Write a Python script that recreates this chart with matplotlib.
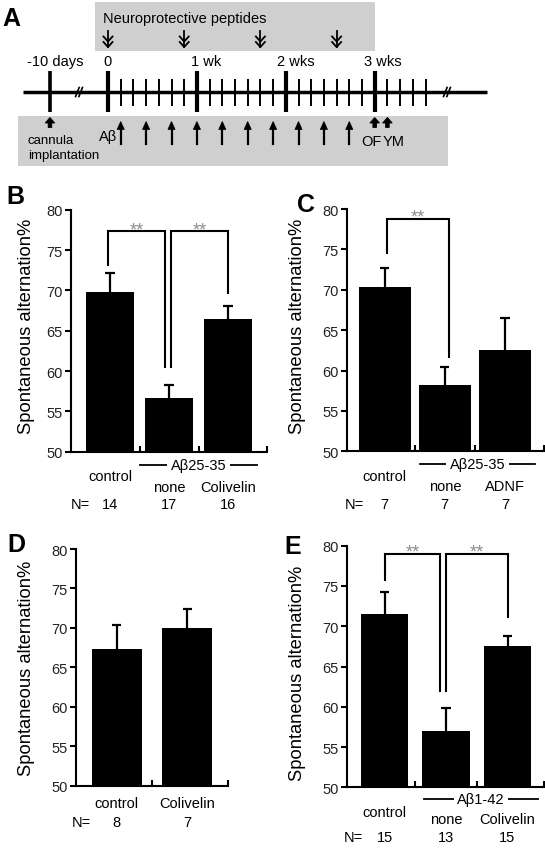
import numpy as np
import matplotlib
matplotlib.use('Agg')
import matplotlib.pyplot as plt
from matplotlib.patches import Rectangle, Polygon
from matplotlib import transforms

plt.rcParams['font.family'] = ['Liberation Sans', 'DejaVu Sans']

W, H, DPI = 545, 853, 100
fig = plt.figure(figsize=(W / DPI, H / DPI), dpi=DPI)

# ---------------- data ----------------
# Panel A: experimental timeline (days)
timeline_days = list(range(0, 26))
week_days = [0, 7, 14, 21]
week_labels = ['0', '1 wk', '2 wks', '3 wks']
pre_day_label = '-10 days'
peptide_days = [0, 6, 12, 18]
abeta_days = [1, 3, 5, 7, 9, 11, 13, 15, 17, 19]
test_days = [21, 22]
test_labels = ['OF', 'YM']

# Panel B
B_cats = ['control', 'none', 'Colivelin']
B_mean = [69.8, 56.6, 66.5]
B_sem = [2.4, 1.7, 1.6]
B_n = [14, 17, 16]
B_group = 'Aβ25-35'

# Panel C
C_cats = ['control', 'none', 'ADNF']
C_mean = [70.4, 58.2, 62.5]
C_sem = [2.3, 2.2, 4.0]
C_n = [7, 7, 7]
C_group = 'Aβ25-35'

# Panel D
D_cats = ['control', 'Colivelin']
D_mean = [67.3, 70.0]
D_sem = [3.1, 2.45]
D_n = [8, 7]

# Panel E
E_cats = ['control', 'none', 'Colivelin']
E_mean = [71.5, 57.0, 67.6]
E_sem = [2.8, 2.85, 1.2]
E_n = [15, 13, 15]
E_group = 'Aβ1-42'

ylabel = 'Spontaneous alternation%'


def px_axes(x0, y_top, x1, y_bot):
    return fig.add_axes([x0 / W, 1 - y_bot / H, (x1 - x0) / W, (y_bot - y_top) / H])


def ftext(x, y, s, **kw):
    fig.text(x / W, 1 - y / H, s, **kw)


# ---------------- Panel A ----------------
DAY0, PXD = 108.0, 12.7
axA = px_axes(0, 0, W, 175)
axA.set_xlim(-DAY0 / PXD, (W - DAY0) / PXD)
axA.set_ylim(175, 0)
axA.axis('off')

def dpx(p):  # pixel width -> day units
    return p / PXD

pre_pos = -4.57
gray = '#cfcfcf'
axA.add_patch(Rectangle((-1.02, 3), 22.04, 49, facecolor=gray, edgecolor='none', zorder=0))
axA.add_patch(Rectangle((-7.09, 117), 33.86, 49.5, facecolor=gray, edgecolor='none', zorder=0))

# main line
axA.plot([-6.69, 29.84], [93, 93], color='black', lw=2.5, solid_capstyle='butt', zorder=2)
# break marks
for bx in (-2.28, 26.69):
    for dx in (-0.13, 0.13):
        axA.plot([bx + dx - 0.14, bx + dx + 0.14], [97.5, 88.5], color='black', lw=1.2, zorder=3)
# ticks
small = [d for d in timeline_days if d not in week_days]
axA.vlines(small, 80, 107, color='black', lw=1.4, zorder=3)
axA.vlines(week_days, 72, 113, color='black', lw=3.0, zorder=3)
axA.vlines([pre_pos], 72, 113, color='black', lw=2.6, zorder=3)

# labels
week_off = [0.0, 0.7, 0.8, 0.63]
for d, lab, o in zip(week_days, week_labels, week_off):
    axA.text(d + o, 62, lab, ha='center', va='center', fontsize=10.5)
axA.text(pre_pos + 0.4, 62, pre_day_label, ha='center', va='center', fontsize=10.5)
axA.text(dpx(103 - DAY0), 19, 'Neuroprotective peptides', ha='left', va='center', fontsize=10.5)

# double-headed peptide arrows
for d in peptide_days:
    axA.plot([d, d], [32, 48], color='black', lw=1.3, zorder=3)
    for tip in (48, 42.5):
        axA.plot([d - dpx(4.5), d, d + dpx(4.5)], [tip - 5, tip, tip - 5], color='black', lw=1.3, zorder=3)

# thin Abeta arrows
for d in abeta_days:
    axA.plot([d, d], [145, 129], color='black', lw=1.6, zorder=3)
    axA.add_patch(Polygon([[d - dpx(3.6), 130.5], [d + dpx(3.6), 130.5], [d, 122.5]],
                          closed=True, facecolor='black', edgecolor='black', lw=0.5, zorder=3))

# thick arrows (cannula, OF, YM)
def thick_arrow(x):
    hw, sw = dpx(4.8), dpx(1.8)
    axA.add_patch(Polygon([[x - sw, 128.5], [x + sw, 128.5], [x + sw, 124], [x + hw, 124],
                           [x, 118.5], [x - hw, 124], [x - sw, 124]],
                          closed=True, facecolor='black', edgecolor='black', lw=0.6, zorder=3))

thick_arrow(pre_pos)
for d in test_days:
    thick_arrow(d)

axA.text(abeta_days[0] - 0.28, 137.5, 'Aβ', ha='right', va='center', fontsize=10.5)
axA.text(dpx(28 - DAY0), 141, 'cannula', ha='left', va='center', fontsize=9.5)
axA.text(dpx(28 - DAY0), 156, 'implantation', ha='left', va='center', fontsize=9.5)
mid = (test_days[0] + test_days[1]) / 2
axA.text(mid + 0.08, 142, test_labels[0], ha='right', va='center', fontsize=10.5)
axA.text(mid + 0.12, 142, test_labels[1], ha='left', va='center', fontsize=10.5)


# ---------------- bar panels ----------------
def bar_panel(rect, centers_px, step_px, width, cats, mean, sem, n,
              offs, group=None, group_span=None, brackets=(), label_x_px=None,
              label_y=0.5, boundaries=None):
    x0, yt, x1, yb = rect
    ax = px_axes(x0, yt, x1, yb)
    xs = np.arange(len(cats))
    xlim = ((x0 - centers_px) / step_px, (x1 - centers_px) / step_px)
    ax.bar(xs, mean, width=width, color='black', edgecolor='none', zorder=2)
    top = np.array(mean) + np.array(sem)
    cw = 4.6 / step_px
    ax.vlines(xs, mean, top, color='black', lw=1.6, zorder=3)
    ax.hlines(top, xs - cw, xs + cw, color='black', lw=1.6, zorder=3)
    ax.set_xlim(*xlim)
    ax.set_ylim(50, 80)
    ax.set_yticks(np.arange(50, 81, 5))
    ax.set_yticklabels([str(v) for v in range(50, 81, 5)], fontsize=10.5, color='#222')
    ax.tick_params(axis='y', direction='out', length=4, width=1.5, pad=2)
    if boundaries is None:
        boundaries = [i + 0.5 for i in range(len(cats) - 1)] + [xlim[1]]
    ax.set_xticks(boundaries)
    ax.set_xticklabels([])
    ax.tick_params(axis='x', direction='in', length=4, width=1.5)
    for s in ('top', 'right'):
        ax.spines[s].set_visible(False)
    for s in ('left', 'bottom'):
        ax.spines[s].set_linewidth(1.5)
    ax.set_ylabel(ylabel, fontsize=13.2)
    ax.yaxis.set_label_coords((label_x_px - x0) / (x1 - x0), label_y)

    def below(x, off, s, **kw):
        tr = transforms.offset_copy(ax.get_xaxis_transform(), fig=fig, x=0,
                                    y=-off * 72 / DPI, units='points')
        ax.text(x, 0, s, transform=tr, ha='center', va='center', fontsize=10.5,
                clip_on=False, **kw)
        return tr

    line_off, ctrl_off, sub_off, n_off = offs
    below(xs[0], ctrl_off, cats[0])
    for i in range(1, len(cats)):
        below(xs[i], sub_off, cats[i])
    if group is not None:
        tr = below((group_span[0] + group_span[1]) / 2, line_off, group,
                   bbox=dict(facecolor='white', edgecolor='none', pad=2.5), zorder=5)
        ax.plot(group_span, [0, 0], transform=tr, color='black', lw=1.3, clip_on=False, zorder=4)
    below(-0.5, n_off, 'N=')
    for i, v in enumerate(n):
        below(xs[i], n_off, str(v))

    for (xa, xb, ytop, ya, yb2) in brackets:
        ax.plot([xa, xa, xb, xb], [ya, ytop, ytop, yb2], color='black', lw=1.5,
                solid_joinstyle='miter', zorder=4, clip_on=False)
        ax.text((xa + xb) / 2, ytop - 0.35, '**', ha='center', va='baseline',
                fontsize=13, color='#8c8c8c', zorder=4)
    return ax


# Panel B
bar_panel((71, 210.7, 267, 452.7), 110, 59, 0.81, B_cats, B_mean, B_sem, B_n,
          (13.5, 24, 35.3, 52.3), group=B_group, group_span=(0.51, 2.49),
          brackets=[(-0.03, 0.94, 77.3, 73.2, 60.5), (1.03, 2.0, 77.3, 60.5, 69.7)],
          label_x_px=35, label_y=0.52)
# Panel C
bar_panel((346.7, 210, 544, 452.3), 384.7, 60.1, 0.87, C_cats, C_mean, C_sem, C_n,
          (12.7, 24.4, 34.4, 52.7), group=C_group, group_span=(0.59, 2.5),
          brackets=[(0.03, 1.07, 78.8, 74.55, 61.7)],
          label_x_px=306, label_y=0.52)
# Panel D
bar_panel((76, 550, 227.7, 786.7), 116.7, 70.6, 0.71, D_cats, D_mean, D_sem, D_n,
          (0, 17.3, 17.3, 36.6), label_x_px=35, label_y=0.5)
# Panel E
bar_panel((347.3, 546.7, 544, 788.3), 384.5, 61.5, 0.77, E_cats, E_mean, E_sem, E_n,
          (11.7, 25, 31.7, 50), group=E_group, group_span=(0.64, 2.5),
          brackets=[(0.01, 0.91, 79.0, 75.7, 62.0), (1.0, 2.0, 79.0, 62.0, 71.2)],
          label_x_px=306, label_y=0.475)

# panel letters
for (x, y, s) in [(11, 19, 'A'), (15, 197, 'B'), (306, 205, 'C'), (16, 545, 'D'), (293, 547, 'E')]:
    ftext(x, y, s, ha='center', va='center', fontsize=18, fontweight='bold')

fig.savefig('out.png', dpi=DPI)
